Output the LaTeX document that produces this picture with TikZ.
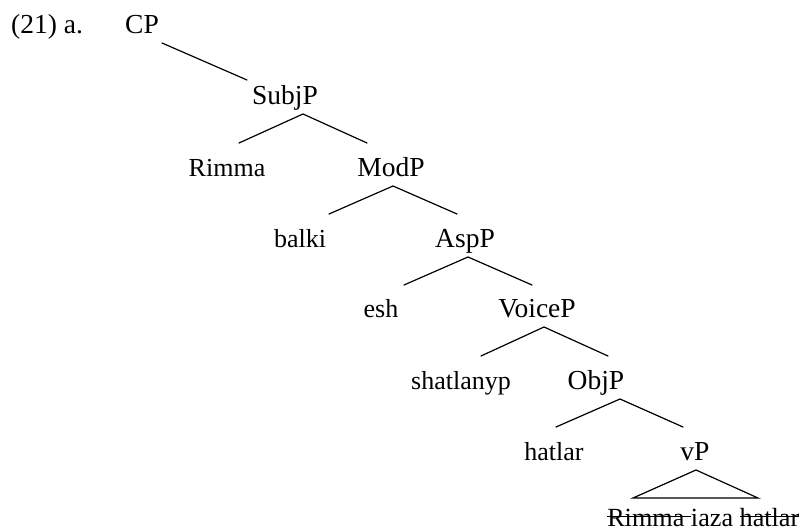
\documentclass[tikz,border=0pt]{standalone}
\usepackage{fontspec}
\setmainfont{Liberation Serif}
% struck-through text: a rule laid over the boxed word
\newcommand{\strikeword}[1]{\setbox0\hbox{#1}\rlap{\rule[0.33em]{\wd0}{1.4pt}}\box0}
\begin{document}
\begin{tikzpicture}[x=1pt,y=-1pt,
  phrase/.style={font=\fontsize{27.5}{30}\selectfont, anchor=base, inner sep=0pt},
  word/.style={font=\fontsize{26}{28}\selectfont, anchor=base, inner sep=0pt},
  branch/.style={line width=1.2pt, line cap=round}]
\useasboundingbox (0,0) rectangle (801,529);

% example number and root
\node[phrase, anchor=base west] (ex) at (11,34) {(21) a.};
\node[phrase] (CP) at (142,34) {CP};

% labelled nodes, top to bottom
\node[phrase] (SubjP)  at (285,105) {SubjP};
\node[word]   (Rimma)  at (227,177) {Rimma};
\node[phrase] (ModP)   at (391,177) {ModP};
\node[word]   (balki)  at (300,248) {balki};
\node[phrase] (AspP)   at (465,248) {AspP};
\node[word]   (esh)    at (381,318) {esh};
\node[phrase] (VoiceP) at (537,318) {VoiceP};
\node[word]   (shat)   at (461,390) {shatlanyp};
\node[phrase] (ObjP)   at (596,390) {ObjP};
\node[word]   (hatlar) at (554,460) {hatlar};
\node[phrase] (vP)     at (695,460) {vP};
\node[word, font=\fontsize{26.2}{28}\selectfont, anchor=base east] (vPtext) at (799.5,526)
  {\strikeword{Rimma\ }iaza \strikeword{hatlar}};

% branch end points
\coordinate (CP-b)     at (162,43);
\coordinate (SubjP-t)  at (247,80);
\coordinate (SubjP-b)  at (303,114);
\coordinate (Rimma-t)  at (239,143);
\coordinate (ModP-t)   at (367,143);
\coordinate (ModP-b)   at (393,186);
\coordinate (balki-t)  at (329,214);
\coordinate (AspP-t)   at (457,214);
\coordinate (AspP-b)   at (468,257);
\coordinate (esh-t)    at (404,285);
\coordinate (VoiceP-t) at (532,285);
\coordinate (VoiceP-b) at (544,327);
\coordinate (shat-t)   at (481,356);
\coordinate (ObjP-t)   at (608,356);
\coordinate (ObjP-b)   at (620,399);
\coordinate (hatlar-t) at (556,427);
\coordinate (vP-t)     at (683,427);
\coordinate (vP-b)     at (696,470);
\coordinate (tri-l)    at (633,498);
\coordinate (tri-r)    at (758,498);

% branches
\draw[branch] (CP-b) -- (SubjP-t);
\draw[branch] (Rimma-t) -- (SubjP-b) -- (ModP-t);
\draw[branch] (balki-t) -- (ModP-b) -- (AspP-t);
\draw[branch] (esh-t) -- (AspP-b) -- (VoiceP-t);
\draw[branch] (shat-t) -- (VoiceP-b) -- (ObjP-t);
\draw[branch] (hatlar-t) -- (ObjP-b) -- (vP-t);
\draw[branch] (tri-l) -- (vP-b) -- (tri-r) -- cycle;
\end{tikzpicture}
\end{document}
